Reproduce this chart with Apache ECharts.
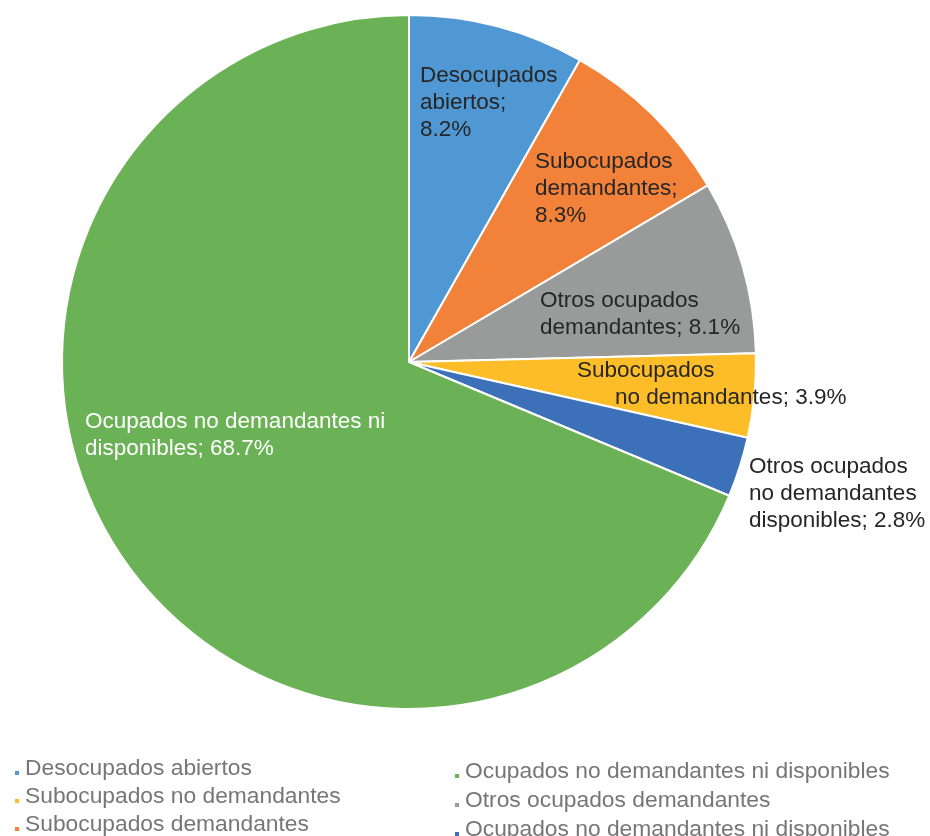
<!DOCTYPE html>
<html>
<head>
<meta charset="utf-8">
<title>Población por condición de actividad</title>
<script src="https://cdn.jsdelivr.net/npm/echarts@6/dist/echarts.min.js"></script>
<style>
  html, body { margin: 0; padding: 0; background: #ffffff; }
  #chart { width: 930px; height: 836px; }
</style>
</head>
<body>
<div id="chart"></div>
<script>
// Categories in clockwise order starting at 12 o'clock
const categories = [
  'Desocupados abiertos',
  'Subocupados demandantes',
  'Otros ocupados demandantes',
  'Subocupados no demandantes',
  'Otros ocupados no demandantes disponibles',
  'Ocupados no demandantes ni disponibles'
];
// Shares (%)
const shares = [8.2, 8.3, 8.1, 3.9, 2.8, 68.7];
const colors = ['#4f98d3', '#f2823a', '#999b9b', '#fdbd28', '#3c70b9', '#6bb256'];

// Legend columns and the text each entry shows
const legendLeft = ['Desocupados abiertos', 'Subocupados no demandantes', 'Subocupados demandantes'];
const legendRight = ['Ocupados no demandantes ni disponibles', 'Otros ocupados demandantes', 'Otros ocupados no demandantes disponibles'];
const legendText = {
  'Otros ocupados no demandantes disponibles': 'Ocupados no demandantes ni disponibles'
};

// Label text for each slice (line breaks as printed)
const labelText = [
  'Desocupados\nabiertos;\n' + shares[0].toFixed(1) + '%',
  'Subocupados\ndemandantes;\n' + shares[1].toFixed(1) + '%',
  'Otros ocupados\ndemandantes; ' + shares[2].toFixed(1) + '%',
  '{a|Subocupados}\n{b|no demandantes; ' + shares[3].toFixed(1) + '%}',
  'Otros ocupados\nno demandantes\ndisponibles; ' + shares[4].toFixed(1) + '%',
  'Ocupados no demandantes ni\ndisponibles; ' + shares[5].toFixed(1) + '%'
];
// Label anchor (top-left) for each slice
const labelPos = [
  [420, 62], [535, 148], [540, 287], [577, 357], [749, 453], [85, 408]
];

const FONT = '"Liberation Sans", Arial, sans-serif';

const chart = echarts.init(document.getElementById('chart'), null, { renderer: 'canvas' });

const legendCommon = {
  orient: 'vertical',
  icon: 'path://M0,0M0,8h6v6h-6z',
  itemWidth: 6,
  itemHeight: 14,
  padding: 0,
  height: 120,
  selectedMode: false,
  formatter: name => legendText[name] || name,
  textStyle: { color: '#767676', fontSize: 22.8, lineHeight: 28, fontFamily: FONT }
};

chart.setOption({
  animation: false,
  color: colors,
  legend: [
    Object.assign({}, legendCommon, { data: legendLeft, left: 13, top: 755, itemGap: 0 }),
    Object.assign({}, legendCommon, { data: legendRight, left: 453, top: 758, itemGap: 1 })
  ],
  series: [{
    type: 'pie',
    center: [409, 362],
    radius: 347,
    startAngle: 90,
    clockwise: true,
    itemStyle: { borderColor: '#ffffff', borderWidth: 2 },
    label: {
      show: true,
      position: 'inside',
      color: '#262626',
      fontSize: 22.5,
      lineHeight: 27,
      fontFamily: FONT,
      align: 'left',
      formatter: p => labelText[p.dataIndex],
      rich: {
        a: { fontSize: 22.5, lineHeight: 27, fontFamily: FONT, color: '#262626' },
        b: { fontSize: 22.5, lineHeight: 27, fontFamily: FONT, color: '#262626', padding: [0, 0, 0, 38] }
      }
    },
    labelLine: { show: false },
    labelLayout: p => ({
      x: labelPos[p.dataIndex][0],
      y: labelPos[p.dataIndex][1],
      align: 'left',
      verticalAlign: 'top'
    }),
    emphasis: { disabled: true },
    data: categories.map((name, i) => ({
      name: name,
      value: shares[i],
      label: i === 5 ? { color: '#ffffff' } : undefined
    }))
  }]
});
</script>
</body>
</html>
